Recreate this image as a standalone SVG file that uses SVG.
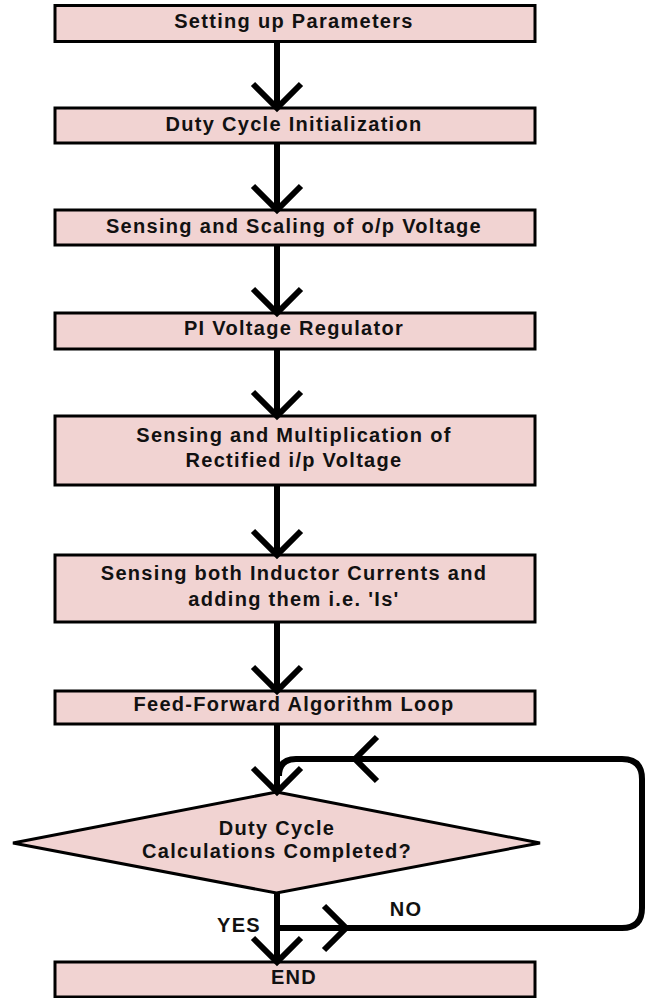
<svg xmlns="http://www.w3.org/2000/svg" width="654" height="998" viewBox="0 0 654 998">
<style>
.box{fill:#f1d3d2;stroke:#000;stroke-width:3}
.t{font-family:"Liberation Sans",Arial,sans-serif;font-weight:bold;font-size:20px;letter-spacing:1.3px;fill:#111;text-anchor:middle}
.ln{fill:none;stroke:#000;stroke-width:6}
.ah{fill:none;stroke:#000;stroke-width:6;stroke-linecap:butt}
</style>
<rect width="654" height="998" fill="#fff"/>
<g id="n1"><rect class="box" x="55" y="5.5" width="480" height="36"/><text class="t" x="294" y="28">Setting up Parameters</text></g>
<g id="n2"><rect class="box" x="55" y="108" width="480" height="35"/><text class="t" x="294" y="131">Duty Cycle Initialization</text></g>
<g id="n3"><rect class="box" x="55" y="210" width="480" height="35"/><text class="t" x="294" y="233">Sensing and Scaling of o/p Voltage</text></g>
<g id="n4"><rect class="box" x="55" y="313" width="480" height="36"/><text class="t" x="294" y="335">PI Voltage Regulator</text></g>
<g id="n5"><rect class="box" x="55" y="416" width="480" height="69"/><text class="t" x="294" y="442">Sensing and Multiplication of</text><text class="t" x="294" y="467">Rectified i/p Voltage</text></g>
<g id="n6"><rect class="box" x="55" y="555" width="480" height="67"/><text class="t" x="294" y="580">Sensing both Inductor Currents and</text><text class="t" x="294" y="606">adding them i.e. 'Is'</text></g>
<g id="n7"><rect class="box" x="55" y="691" width="480" height="33"/><text class="t" x="294" y="711">Feed-Forward Algorithm Loop</text></g>
<g id="d1"><polygon class="box" points="276.5,792 540,843 276.5,893 13,843"/><text class="t" x="277" y="835">Duty Cycle</text><text class="t" x="277" y="858">Calculations Completed?</text></g>
<g id="n8"><rect class="box" x="55" y="962" width="480" height="35"/><text class="t" x="294" y="984">END</text></g>
<g id="connectors">
<path class="ln" d="M277 42V107M277 143V209M277 245V312M277 349V415M277 485V554M277 622V690M277 724V791M277 893V961"/>
<path class="ah" d="M253 84L277 108L301 84M253 186L277 210L301 186M253 289L277 313L301 289M253 392L277 416L301 392M253 531L277 555L301 531M253 667L277 691L301 667M253 768L277 792L301 768M253 938L277 962L301 938"/>
<path class="ln" d="M277 928H622Q642 928 642 908V779Q642 759 622 759H296Q279 759 279 776"/>
<path class="ah" d="M324 906L346 928L324 950M377 737L355 759L377 781"/>
<text class="t" x="239" y="932">YES</text>
<text class="t" x="406" y="916">NO</text>
</g>
</svg>
